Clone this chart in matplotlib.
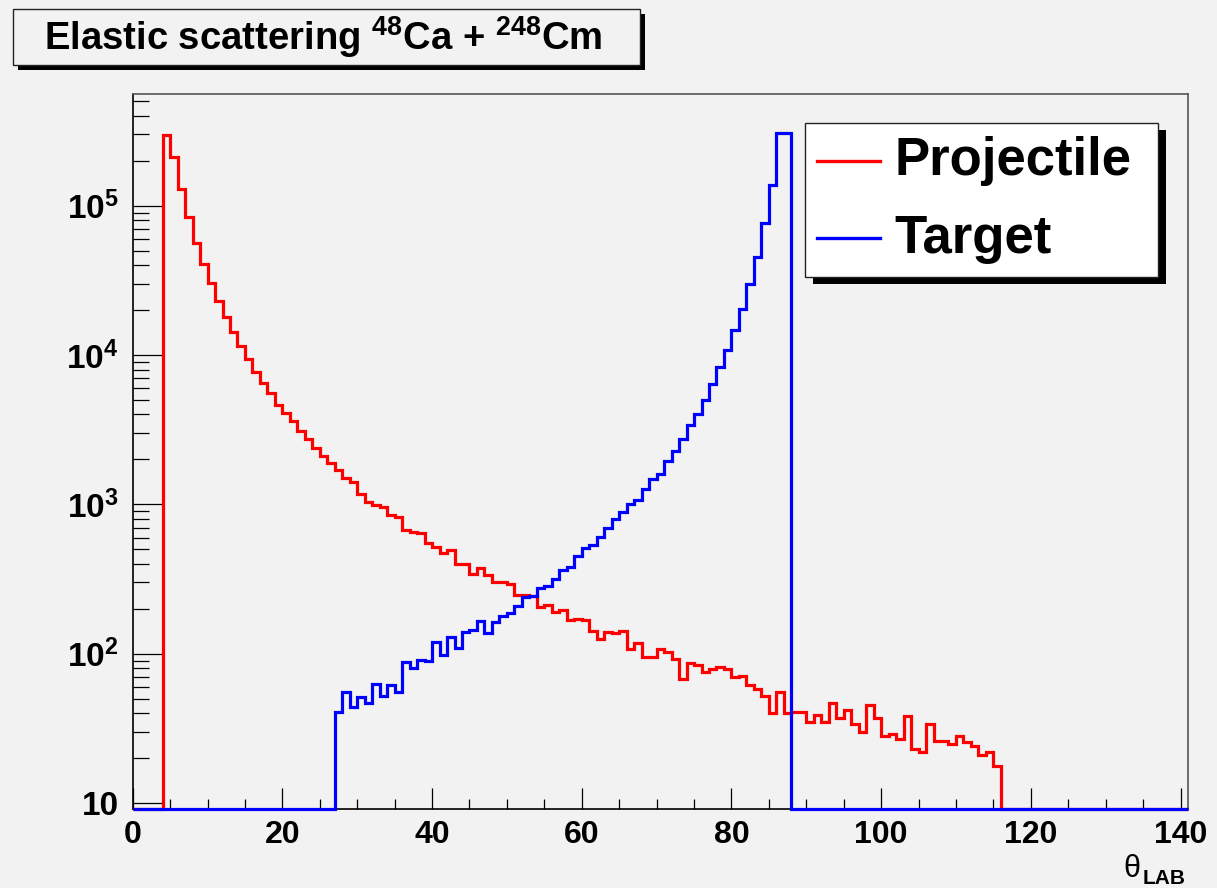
import numpy as np
import matplotlib
matplotlib.use("Agg")
import matplotlib.pyplot as plt
from matplotlib.patches import Rectangle
from matplotlib.lines import Line2D
from matplotlib.ticker import MultipleLocator, LogLocator, NullFormatter

plt.rcParams['font.family'] = ['Liberation Sans', 'DejaVu Sans']
plt.rcParams['font.weight'] = 'bold'
plt.rcParams['mathtext.fontset'] = 'custom'
plt.rcParams['mathtext.rm'] = 'Liberation Sans:bold'
plt.rcParams['mathtext.it'] = 'Liberation Sans:bold:italic'
plt.rcParams['mathtext.bf'] = 'Liberation Sans:bold'

# histogram data, 1 degree bins
n_bins = 141
projectile_first_bin = 4
projectile_counts = [
    298000, 212000, 129000, 83500, 56700, 40600, 30200, 23100, 18000, 14200,
    11500, 9380, 7750, 6540, 5560, 4640, 4090, 3590, 3080, 2720,
    2380, 2100, 1890, 1710, 1500, 1420, 1180, 1040, 990, 955,
    850, 820, 675, 657, 641, 555, 517, 472, 492, 401,
    401, 343, 374, 337, 300, 300, 294, 248, 246, 242,
    206, 211, 190, 197, 167, 171, 167, 143, 126, 140,
    138, 141, 107, 118, 95, 95, 107, 102, 92, 68,
    87, 84, 76, 79, 82, 79, 70, 71, 62, 58,
    52, 40, 55, 40, 41, 41, 35, 39, 35, 47,
    37, 42, 34, 30, 45, 37, 28, 29, 27, 38,
    23, 22, 34, 26, 26, 25, 28, 25.5, 24, 21,
    22, 17.7,
]
target_first_bin = 27
target_counts = [
    41, 55, 44, 51, 47, 63, 52, 62, 55, 88,
    80, 91, 90, 120, 98, 130, 110, 139, 144, 165,
    137, 164, 179, 188, 209, 241, 244, 277, 285, 317,
    364, 380, 448, 513, 536, 602, 692, 795, 894, 1010,
    1078, 1270, 1475, 1595, 1960, 2280, 2760, 3390, 4050, 5030,
    6430, 8310, 10750, 14750, 20200, 30000, 45700, 76200, 138000, 306000,
    306000,
]
series_names = ['Projectile', 'Target']
series_colors = ['#ff0000', '#0000ff']

y_min = 10 ** 0.96
y_max = 10 ** 5.745

edges = np.arange(n_bins + 1)
proj = np.zeros(n_bins)
proj[projectile_first_bin:projectile_first_bin + len(projectile_counts)] = projectile_counts
targ = np.zeros(n_bins)
targ[target_first_bin:target_first_bin + len(target_counts)] = target_counts

W, H = 1217, 888
bg = '#f2f2f2'
fig = plt.figure(figsize=(W / 100, H / 100), dpi=100, facecolor=bg)


def fx(x):
    return x / W


def fy(y):
    return 1 - y / H


ax = fig.add_axes([fx(132.7), fy(809), fx(1188) - fx(132.7), fy(94.5) - fy(809)])
ax.set_facecolor(bg)
ax.set_yscale('log')
ax.set_xlim(0, 141)
ax.set_ylim(y_min, y_max)

for vals, col in zip([proj, targ], series_colors):
    ax.stairs(np.clip(vals, y_min, None), edges, baseline=None, color=col,
              lw=2.3, clip_on=False, zorder=3)

ax.xaxis.set_major_locator(MultipleLocator(20))
ax.xaxis.set_minor_locator(MultipleLocator(5))
ax.set_yticks([10, 1e2, 1e3, 1e4, 1e5])
ax.set_yticklabels(['10', '$10^{2}$', '$10^{3}$', '$10^{4}$', '$10^{5}$'])
ax.yaxis.set_minor_locator(LogLocator(base=10, subs=range(2, 10)))
ax.yaxis.set_minor_formatter(NullFormatter())

ax.tick_params(axis='both', which='both', direction='in', top=False, right=False,
               width=0.9, color='black')
ax.tick_params(axis='x', which='major', length=15, labelsize=23, pad=8)
ax.tick_params(axis='x', which='minor', length=7.5)
ax.tick_params(axis='y', which='major', length=22, labelsize=24, pad=10)
ax.tick_params(axis='y', which='minor', length=11.5)
for s in ['left', 'bottom']:
    ax.spines[s].set_color('black')
    ax.spines[s].set_linewidth(1.2)
for s in ['top', 'right']:
    ax.spines[s].set_color('#555555')
    ax.spines[s].set_linewidth(1.2)

# x axis title
fig.text(fx(1123), fy(877), '\u03b8', fontsize=22, fontweight='normal', va='baseline')
fig.text(fx(1143), fy(884), 'LAB', fontsize=15, va='baseline')


def shadow_box(x0, y0, x1, y1, off, face):
    fig.patches.append(Rectangle((fx(x0 + off), fy(y1 + off)), fx(x1 - x0), fy(y0) - fy(y1),
                                 transform=fig.transFigure, facecolor='black',
                                 edgecolor='none', zorder=5))
    fig.patches.append(Rectangle((fx(x0), fy(y1)), fx(x1 - x0), fy(y0) - fy(y1),
                                 transform=fig.transFigure, facecolor=face,
                                 edgecolor='#222222', lw=1.0, zorder=6))


# title box
shadow_box(12.5, 9.5, 640, 65, 5, bg)
fig.text(fx(44), fy(49.5), r'Elastic scattering $^{48}$Ca + $^{248}$Cm', fontsize=27.5,
         va='baseline', zorder=7)

# legend box
shadow_box(805, 123, 1158, 277, 7.5, 'white')
for name, col, ly, ty in zip(series_names, series_colors, [160.7, 238.3], [175, 253]):
    fig.lines.append(Line2D([fx(817), fx(880)], [fy(ly), fy(ly)], transform=fig.transFigure,
                            color=col, lw=2.4, zorder=7))
    fig.text(fx(894), fy(ty), name, fontsize=38, va='baseline', zorder=7)

fig.savefig('out.png', dpi=100, facecolor=bg)
